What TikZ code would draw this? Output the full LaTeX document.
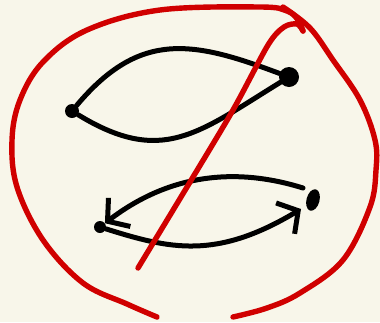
\documentclass[tikz,border=0pt]{standalone}
\usetikzlibrary{positioning, arrows.meta, shapes.geometric}
\definecolor{paper}{RGB}{248, 246, 234}
\definecolor{inkred}{RGB}{208, 0, 0}

\begin{document}
\begin{tikzpicture}[x=1pt, y=-1pt,
                dot/.style={circle, fill=black, inner sep=0pt, minimum size=#1},
                ink/.style={line width=5pt, line cap=round, line join=round},
                redink/.style={ink, draw=inkred, line width=5.4pt},
                barb/.style={-{Straight Barb[length=15pt, width=36pt]}}
            ]
            \fill[paper] (0, 0) rectangle (380, 322);
            \useasboundingbox (0, 0) rectangle (380, 322);

            % upper lens
            \node[dot=14pt] (ul) at (72, 111) {};
            \node[dot=20pt] (ur) at (289, 77) {};
            \draw[ink] (ul) .. controls (140, 30) and (193, 41) .. (ur);
            \draw[ink] (ul) .. controls (162, 166) and (198, 133) .. (ur);

            % lower lens
            \node[dot=12pt] (ll) at (100, 227) {};
            \node[ellipse, fill=black, inner sep=0pt, minimum width=13pt,
                  minimum height=22pt, rotate=-15] (lr) at (313, 200) {};
            \coordinate (lrtip) at (301, 209);
            \draw[ink, barb] (303, 188) coordinate (lrstart)
                .. controls (239, 168) and (172, 172) .. (ll);
            \draw[ink, barb] (ll) .. controls (170, 249) and (216, 260) .. (lrtip);

            % red strokes
            \coordinate (rleft) at (157, 317);
            \coordinate (rtop) at (303, 31);
            \coordinate (rright) at (233, 317);
            \coordinate (rdiag) at (138, 268);
            \draw[redink] plot[smooth, tension=0.6] coordinates {
                (rleft) (127, 304) (83, 283) (43, 240) (17, 187) (12, 140)
                (20, 100) (43, 62) (87, 30) (160, 10) (260, 7) (287, 11)
                (298, 20) (rtop)};
            \draw[redink] plot[smooth, tension=0.6] coordinates {
                (283, 7) (310, 28) (333, 60) (360, 100) (375, 140) (376, 170)
                (370, 207) (343, 260) (300, 293) (267, 308) (rright)};
            \draw[redink] plot[smooth, tension=0.5] coordinates {
                (rdiag) (187, 187) (233, 110) (268, 45) (284, 27) (297, 24)
                (rtop)};
\end{tikzpicture}
\end{document}
